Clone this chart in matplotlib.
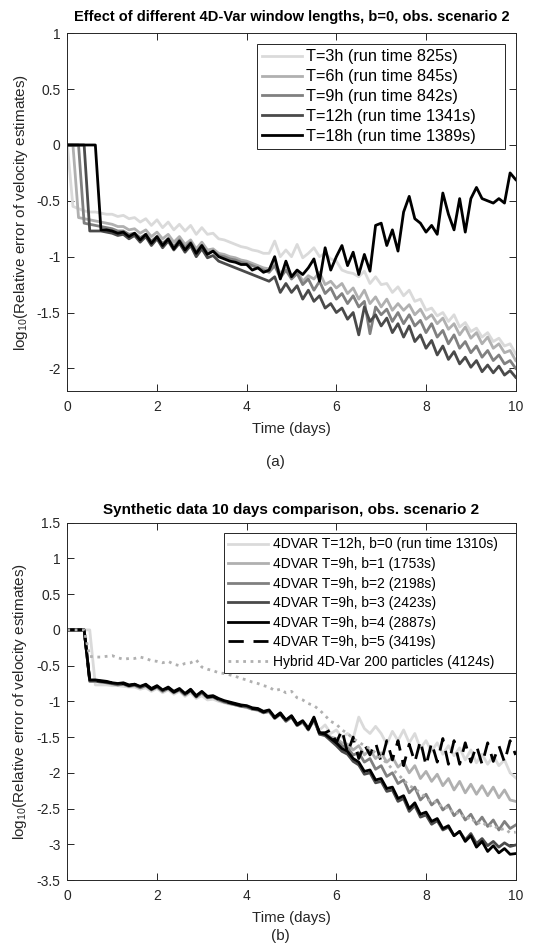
import numpy as np
import matplotlib.pyplot as plt

plt.rcParams['font.family'] = ['Liberation Sans', 'DejaVu Sans']
plt.rcParams['axes.unicode_minus'] = False
plt.rcParams['mathtext.fontset'] = 'custom'
plt.rcParams['mathtext.rm'] = 'Liberation Sans'
plt.rcParams['mathtext.it'] = 'Liberation Sans'

# time axis: 3-hourly samples over 10 days
t = np.linspace(0, 10, 81)

# ---- panel (a): window lengths, b=0 ----
win_labels = ["T=3h (run time 825s)", "T=6h (run time 845s)", "T=9h (run time 842s)",
              "T=12h (run time 1341s)", "T=18h (run time 1389s)"]

err_3h = [0, -0.55, -0.57, -0.59, -0.60, -0.60, -0.61, -0.62, -0.62, -0.64,
          -0.63, -0.66, -0.65, -0.69, -0.66, -0.72, -0.67, -0.74, -0.69, -0.76,
          -0.71, -0.77, -0.72, -0.80, -0.74, -0.80, -0.79, -0.84, -0.85, -0.87,
          -0.89, -0.91, -0.92, -0.94, -0.95, -0.97, -0.97, -0.86, -1.00, -0.94,
          -1.00, -0.89, -1.01, -0.97, -0.92, -1.00, -0.97, -1.02, -1.04, -1.12,
          -1.14, -1.15, -1.18, -1.13, -1.24, -1.18, -1.25, -1.24, -1.32, -1.27,
          -1.35, -1.30, -1.40, -1.38, -1.48, -1.46, -1.53, -1.50, -1.58, -1.52,
          -1.63, -1.59, -1.67, -1.64, -1.72, -1.68, -1.76, -1.73, -1.80, -1.78,
          -1.87]
err_6h = [0, 0, -0.65, -0.66, -0.67, -0.68, -0.69, -0.70, -0.71, -0.73,
          -0.73, -0.76, -0.75, -0.79, -0.76, -0.82, -0.78, -0.84, -0.80, -0.87,
          -0.82, -0.89, -0.85, -0.93, -0.87, -0.94, -0.93, -0.97, -0.98, -1.00,
          -1.01, -1.03, -1.04, -1.06, -1.08, -1.10, -1.11, -1.05, -1.15, -1.10,
          -1.18, -1.12, -1.22, -1.17, -1.20, -1.14, -1.25, -1.22, -1.28, -1.24,
          -1.33, -1.28, -1.38, -1.30, -1.42, -1.36, -1.45, -1.38, -1.48, -1.42,
          -1.48, -1.43, -1.52, -1.47, -1.56, -1.52, -1.60, -1.55, -1.65, -1.60,
          -1.70, -1.63, -1.73, -1.68, -1.78, -1.72, -1.82, -1.78, -1.86, -1.84,
          -1.93]
err_9h = [0, 0, 0, -0.70, -0.71, -0.72, -0.73, -0.74, -0.75, -0.77,
          -0.77, -0.80, -0.79, -0.83, -0.80, -0.86, -0.82, -0.88, -0.84, -0.91,
          -0.85, -0.92, -0.87, -0.96, -0.90, -0.97, -0.95, -0.99, -1.00, -1.02,
          -1.03, -1.05, -1.06, -1.08, -1.10, -1.12, -1.14, -1.08, -1.19, -1.12,
          -1.20, -1.15, -1.25, -1.20, -1.30, -1.22, -1.33, -1.28, -1.38, -1.33,
          -1.42, -1.35, -1.45, -1.40, -1.69, -1.45, -1.52, -1.47, -1.58, -1.50,
          -1.60, -1.52, -1.62, -1.57, -1.68, -1.60, -1.72, -1.66, -1.78, -1.70,
          -1.82, -1.76, -1.86, -1.80, -1.90, -1.84, -1.93, -1.88, -1.96, -1.93,
          -2.00]
err_12h = [0, 0, 0, 0, -0.77, -0.77, -0.77, -0.78, -0.79, -0.81,
           -0.80, -0.84, -0.81, -0.87, -0.82, -0.90, -0.84, -0.92, -0.86, -0.94,
           -0.88, -0.96, -0.90, -1.00, -0.93, -1.01, -0.99, -1.04, -1.06, -1.08,
           -1.10, -1.12, -1.14, -1.16, -1.18, -1.20, -1.22, -1.18, -1.32, -1.24,
           -1.32, -1.26, -1.38, -1.30, -1.40, -1.35, -1.46, -1.42, -1.50, -1.46,
           -1.56, -1.50, -1.70, -1.45, -1.58, -1.52, -1.62, -1.55, -1.68, -1.60,
           -1.72, -1.62, -1.76, -1.70, -1.82, -1.75, -1.88, -1.80, -1.92, -1.85,
           -1.96, -1.90, -1.99, -1.93, -2.03, -1.97, -2.04, -1.98, -2.06, -2.02,
           -2.08]
err_18h = [0, 0, 0, 0, 0, 0, -0.76, -0.76, -0.77, -0.79,
           -0.78, -0.82, -0.79, -0.85, -0.80, -0.88, -0.82, -0.90, -0.84, -0.93,
           -0.86, -0.94, -0.88, -0.97, -0.90, -0.98, -0.95, -1.00, -1.02, -1.04,
           -1.05, -1.07, -1.07, -1.12, -1.10, -1.14, -1.12, -1.00, -1.20, -1.04,
           -1.18, -1.12, -1.16, -1.10, -1.02, -1.22, -0.92, -1.12, -1.00, -0.90,
           -1.08, -0.96, -1.16, -0.98, -1.13, -0.72, -0.70, -0.90, -0.76, -0.95,
           -0.60, -0.46, -0.66, -0.70, -0.78, -0.72, -0.80, -0.43, -0.62, -0.76,
           -0.48, -0.78, -0.48, -0.38, -0.48, -0.50, -0.52, -0.48, -0.52, -0.25,
           -0.31]

# ---- panel (b): comparison ----
cmp_labels = ["4DVAR T=12h, b=0 (run time 1310s)", "4DVAR T=9h, b=1 (1753s)",
              "4DVAR T=9h, b=2 (2198s)", "4DVAR T=9h, b=3 (2423s)",
              "4DVAR T=9h, b=4 (2887s)", "4DVAR T=9h, b=5 (3419s)",
              "Hybrid 4D-Var 200 particles (4124s)"]

err_b0 = [0, 0, 0, 0, 0, -0.77, -0.77, -0.77, -0.78, -0.78,
          -0.79, -0.80, -0.80, -0.83, -0.81, -0.86, -0.82, -0.88, -0.84, -0.90,
          -0.86, -0.93, -0.88, -0.96, -0.92, -0.98, -0.97, -1.00, -1.02, -1.04,
          -1.05, -1.07, -1.09, -1.11, -1.13, -1.16, -1.15, -1.22, -1.18, -1.27,
          -1.22, -1.31, -1.28, -1.35, -1.30, -1.40, -1.33, -1.45, -1.40, -1.50,
          -1.45, -1.52, -1.22, -1.38, -1.45, -1.35, -1.45, -1.60, -1.42, -1.55,
          -1.40, -1.58, -1.45, -1.66, -1.55, -1.70, -1.58, -1.74, -1.62, -1.76,
          -1.65, -1.82, -1.68, -1.86, -1.74, -1.88, -1.76, -1.90, -1.82, -2.00,
          -2.07]
err_b1 = [0, 0, 0, 0, -0.72, -0.72, -0.73, -0.74, -0.76, -0.77,
          -0.76, -0.79, -0.78, -0.81, -0.78, -0.84, -0.80, -0.86, -0.82, -0.88,
          -0.84, -0.91, -0.85, -0.94, -0.88, -0.95, -0.94, -0.98, -1.01, -1.03,
          -1.05, -1.07, -1.08, -1.11, -1.12, -1.16, -1.14, -1.24, -1.18, -1.28,
          -1.22, -1.34, -1.29, -1.40, -1.26, -1.45, -1.44, -1.50, -1.52, -1.58,
          -1.60, -1.68, -1.62, -1.75, -1.68, -1.80, -1.72, -1.85, -1.78, -1.92,
          -1.85, -2.00, -1.90, -2.08, -1.98, -2.12, -2.02, -2.18, -2.08, -2.24,
          -2.12, -2.28, -2.16, -2.30, -2.18, -2.32, -2.20, -2.35, -2.24, -2.38,
          -2.40]
err_b2 = [0, 0, 0, 0, -0.72, -0.72, -0.73, -0.74, -0.75, -0.77,
          -0.76, -0.79, -0.77, -0.81, -0.78, -0.84, -0.80, -0.86, -0.82, -0.88,
          -0.84, -0.91, -0.85, -0.94, -0.88, -0.95, -0.94, -0.98, -1.01, -1.03,
          -1.05, -1.07, -1.08, -1.11, -1.12, -1.16, -1.14, -1.24, -1.18, -1.28,
          -1.22, -1.34, -1.29, -1.40, -1.25, -1.46, -1.46, -1.52, -1.55, -1.62,
          -1.65, -1.75, -1.72, -1.85, -1.80, -1.95, -1.90, -2.05, -2.00, -2.15,
          -2.10, -2.28, -2.20, -2.38, -2.30, -2.45, -2.38, -2.52, -2.45, -2.60,
          -2.52, -2.66, -2.58, -2.72, -2.62, -2.75, -2.66, -2.80, -2.68, -2.78,
          -2.73]
err_b3 = [0, 0, 0, 0, -0.71, -0.71, -0.72, -0.73, -0.75, -0.76,
          -0.75, -0.78, -0.77, -0.80, -0.77, -0.83, -0.79, -0.85, -0.81, -0.87,
          -0.83, -0.90, -0.84, -0.93, -0.87, -0.94, -0.93, -0.97, -1.00, -1.02,
          -1.04, -1.06, -1.07, -1.10, -1.11, -1.15, -1.13, -1.23, -1.17, -1.27,
          -1.21, -1.33, -1.28, -1.39, -1.24, -1.46, -1.48, -1.55, -1.62, -1.70,
          -1.74, -1.84, -1.89, -2.02, -2.00, -2.14, -2.12, -2.26, -2.24, -2.40,
          -2.36, -2.54, -2.46, -2.62, -2.59, -2.72, -2.67, -2.80, -2.76, -2.88,
          -2.82, -2.94, -2.85, -2.99, -2.92, -3.02, -2.96, -3.04, -2.98, -3.03,
          -3.01]
err_b4 = [0, 0, 0, 0, -0.70, -0.70, -0.71, -0.72, -0.74, -0.75,
          -0.74, -0.77, -0.76, -0.79, -0.76, -0.82, -0.78, -0.84, -0.80, -0.86,
          -0.82, -0.89, -0.83, -0.92, -0.86, -0.93, -0.92, -0.96, -0.99, -1.01,
          -1.03, -1.05, -1.06, -1.09, -1.10, -1.14, -1.12, -1.22, -1.16, -1.26,
          -1.20, -1.32, -1.27, -1.38, -1.22, -1.44, -1.46, -1.52, -1.58, -1.66,
          -1.70, -1.80, -1.85, -1.98, -1.96, -2.10, -2.08, -2.22, -2.20, -2.36,
          -2.32, -2.50, -2.42, -2.58, -2.55, -2.68, -2.64, -2.78, -2.74, -2.88,
          -2.82, -2.96, -2.88, -3.04, -2.96, -3.10, -3.02, -3.12, -3.06, -3.14,
          -3.13]
err_b5 = [0, 0, 0, 0, -0.71, -0.71, -0.72, -0.73, -0.74, -0.76,
          -0.75, -0.78, -0.76, -0.80, -0.77, -0.83, -0.79, -0.85, -0.81, -0.87,
          -0.83, -0.90, -0.84, -0.93, -0.87, -0.94, -0.93, -0.97, -1.00, -1.02,
          -1.04, -1.06, -1.07, -1.10, -1.11, -1.15, -1.13, -1.23, -1.17, -1.27,
          -1.21, -1.33, -1.28, -1.39, -1.24, -1.44, -1.44, -1.40, -1.58, -1.40,
          -1.72, -1.50, -1.80, -1.60, -1.75, -1.58, -1.85, -1.55, -1.82, -1.55,
          -1.90, -1.60, -1.85, -1.55, -1.90, -1.58, -1.85, -1.52, -1.88, -1.55,
          -1.88, -1.58, -1.85, -1.62, -1.88, -1.58, -1.84, -1.62, -1.85, -1.55,
          -1.75]
err_hyb = [0, 0, 0, 0, -0.37, -0.38, -0.38, -0.37, -0.36, -0.39,
           -0.41, -0.40, -0.40, -0.38, -0.40, -0.43, -0.44, -0.46, -0.44, -0.48,
           -0.50, -0.47, -0.46, -0.42, -0.52, -0.55, -0.57, -0.60, -0.61, -0.63,
           -0.65, -0.68, -0.70, -0.73, -0.75, -0.78, -0.80, -0.85, -0.83, -0.88,
           -0.86, -0.95, -0.98, -1.03, -1.06, -1.12, -1.20, -1.28, -1.32, -1.40,
           -1.45, -1.52, -1.57, -1.62, -1.66, -1.72, -1.80, -1.86, -1.95, -2.02,
           -2.10, -2.18, -2.22, -2.28, -2.35, -2.42, -2.40, -2.50, -2.48, -2.58,
           -2.55, -2.65, -2.62, -2.72, -2.68, -2.76, -2.72, -2.80, -2.78, -2.84,
           -2.83]

grays = ['#dadada', '#b0b0b0', '#808080', '#4a4a4a', '#000000']
axis_col = '#262626'


def style_axes(ax):
    for s in ax.spines.values():
        s.set_color(axis_col)
        s.set_linewidth(0.7)
    ax.tick_params(direction='in', top=True, right=True, length=5, width=0.7,
                   labelsize=10, colors=axis_col)
    ax.tick_params(axis='x', pad=6.5)
    ax.tick_params(axis='y', pad=5)
    ax.set_xlim(0, 10)
    ax.set_xticks([0, 2, 4, 6, 8, 10])
    ax.set_xlabel("Time (days)", fontsize=10.8, color=axis_col, labelpad=6)
    ax.set_ylabel(r"log$_{10}$(Relative error of velocity estimates)", fontsize=11,
                  color=axis_col, labelpad=5)


def style_legend(leg):
    leg.get_frame().set_edgecolor(axis_col)
    leg.get_frame().set_linewidth(0.7)


fig = plt.figure(figsize=(5.46, 9.49), dpi=100)

# panel (a)
ax1 = fig.add_axes([0.1233, 0.5883, 0.8212, 0.3766])
series_a = [err_3h, err_6h, err_9h, err_12h, err_18h]
for vals, lab, c in zip(series_a, win_labels, grays):
    ax1.plot(t, vals, color=c, lw=2.0, label=lab)
style_axes(ax1)
ax1.set_ylim(-2.2, 1)
ax1.set_yticks([1, 0.5, 0, -0.5, -1, -1.5, -2])
ax1.set_yticklabels(["1", "0.5", "0", "-0.5", "-1", "-1.5", "-2"])
ax1.set_title("Effect of different 4D-Var window lengths, b=0, obs. scenario 2",
              fontsize=10.5, fontweight='bold', pad=9)
leg1 = ax1.legend(loc='upper left', bbox_to_anchor=(0.4224, 0.0, 0.554, 0.9692),
                  mode='expand', borderaxespad=0, fontsize=11.7, handlelength=2.45,
                  handletextpad=0.25, labelspacing=0.3, borderpad=0.31,
                  fancybox=False, framealpha=1)
style_legend(leg1)

# panel (b)
ax2 = fig.add_axes([0.1233, 0.0727, 0.8212, 0.3765])
series_b = [err_b0, err_b1, err_b2, err_b3, err_b4]
for vals, lab, c in zip(series_b, cmp_labels[:5], grays):
    ax2.plot(t, vals, color=c, lw=2.0, label=lab)
ax2.plot(t, err_b5, color='black', lw=2.0, dashes=(5.5, 3.5), label=cmp_labels[5])
ax2.plot(t, err_hyb, color='#b0b0b0', lw=2.0, ls=':', label=cmp_labels[6])
style_axes(ax2)
ax2.set_ylim(-3.5, 1.5)
ax2.set_yticks([1.5, 1, 0.5, 0, -0.5, -1, -1.5, -2, -2.5, -3, -3.5])
ax2.set_yticklabels(["1.5", "1", "0.5", "0", "-0.5", "-1", "-1.5", "-2", "-2.5", "-3", "-3.5"])
ax2.set_title("Synthetic data 10 days comparison, obs. scenario 2",
              fontsize=11, fontweight='bold', pad=6)
leg2 = ax2.legend(loc='upper left', bbox_to_anchor=(0.3495, 0.0, 0.6505, 0.9703),
                  mode='expand', borderaxespad=0, fontsize=10, handlelength=2.9,
                  handletextpad=0.3, labelspacing=0.4, borderpad=0.3,
                  fancybox=False, framealpha=1)
style_legend(leg2)

fig.text(0.504, 0.5135, "(a)", ha='center', va='center', fontsize=11, color=axis_col)
fig.text(0.513, 0.0137, "(b)", ha='center', va='center', fontsize=11, color=axis_col)

fig.savefig("out.png", dpi=100)
